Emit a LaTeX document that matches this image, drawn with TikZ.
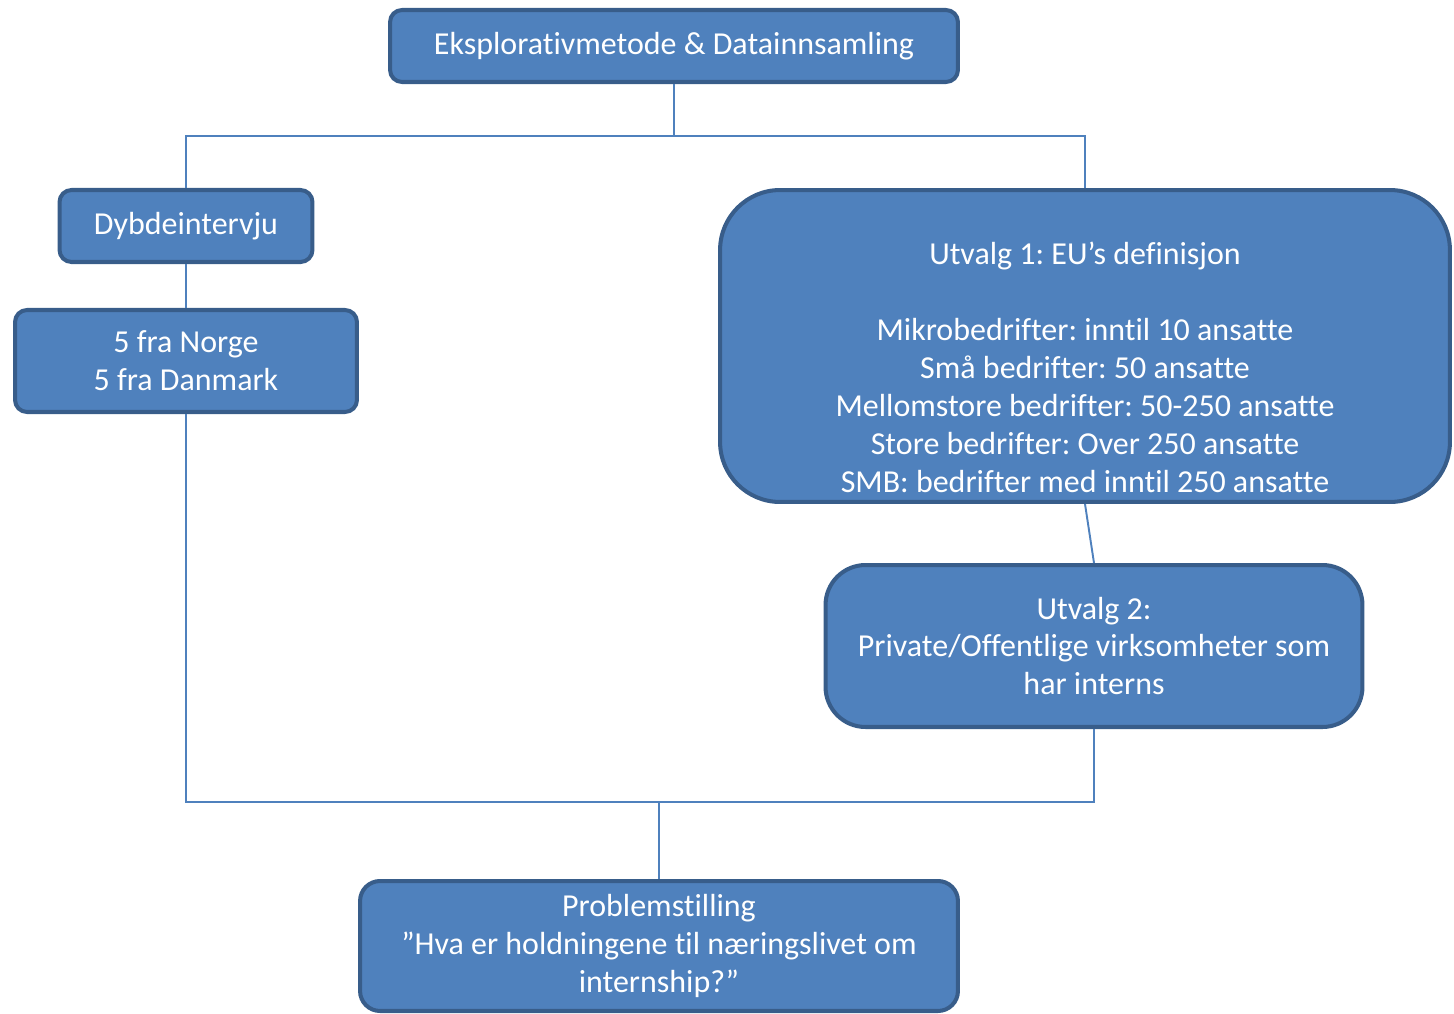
\documentclass[tikz,border=0pt]{standalone}
\usepackage{fontspec}
\setmainfont{Carlito}[Ligatures={NoCommon}]
\frenchspacing
\definecolor{boxfill}{HTML}{4F81BD}
\definecolor{boxborder}{HTML}{385D8A}
\begin{document}
\begin{tikzpicture}[x=0.02cm,y=-0.02cm,
    font=\fontsize{18.2}{21.6}\selectfont,
    box/.style={draw=boxborder,fill=boxfill,line width=2.3pt,text=white,
                align=center,inner sep=0pt,rounded corners=#1},
    box/.default=0.24cm,
    link/.style={draw=boxfill,line width=1.1pt}]
  \path[use as bounding box] (0,0) rectangle (1454,1014);
  % boxes
  \node[box,minimum width=11.36cm,minimum height=1.44cm] (metode) at (674,46)
    {Eksplorativmetode \& Datainnsamling};
  \node[box,minimum width=5.06cm,minimum height=1.44cm] (dybde) at (186,226)
    {Dybdeintervju};
  \node[box,minimum width=6.84cm,minimum height=2.04cm] (land) at (186,361)
    {5 fra Norge\\5 fra Danmark};
  \node[box=1.2cm,minimum width=14.6cm,minimum height=6.24cm] (utv1) at (1085,346) {};
  \node[text=white,align=center,inner sep=0pt] (utv1txt) at (1085,367)
    {Utvalg 1: EU’s definisjon\\[21.6pt]
     Mikrobedrifter: inntil 10 ansatte\\
     Små bedrifter: 50 ansatte\\
     Mellomstore bedrifter: 50-250 ansatte\\
     Store bedrifter: Over 250 ansatte\\
     SMB: bedrifter med inntil 250 ansatte};
  \node[box=0.8cm,minimum width=10.74cm,minimum height=3.24cm] (utv2) at (1094,646)
    {Utvalg 2:\\Private/Offentlige virksomheter som\\har interns};
  \node[box=0.4cm,minimum width=11.96cm,minimum height=2.6cm] (problem) at (659,946)
    {Problemstilling\\”Hva er holdningene til næringslivet om\\internship?”};
  % connectors
  \coordinate (split) at (674,136);
  \coordinate (join) at (659,802);
  \draw[link] (metode.south) -- (split);
  \draw[link] (dybde.north) |- (split) -| (utv1.north);
  \draw[link] (dybde.south) -- (land.north);
  \draw[link] (utv1.south) -- (utv2.north);
  \draw[link] (land.south) |- (join) -| (utv2.south);
  \draw[link] (join) -- (problem.north);
\end{tikzpicture}
\end{document}
